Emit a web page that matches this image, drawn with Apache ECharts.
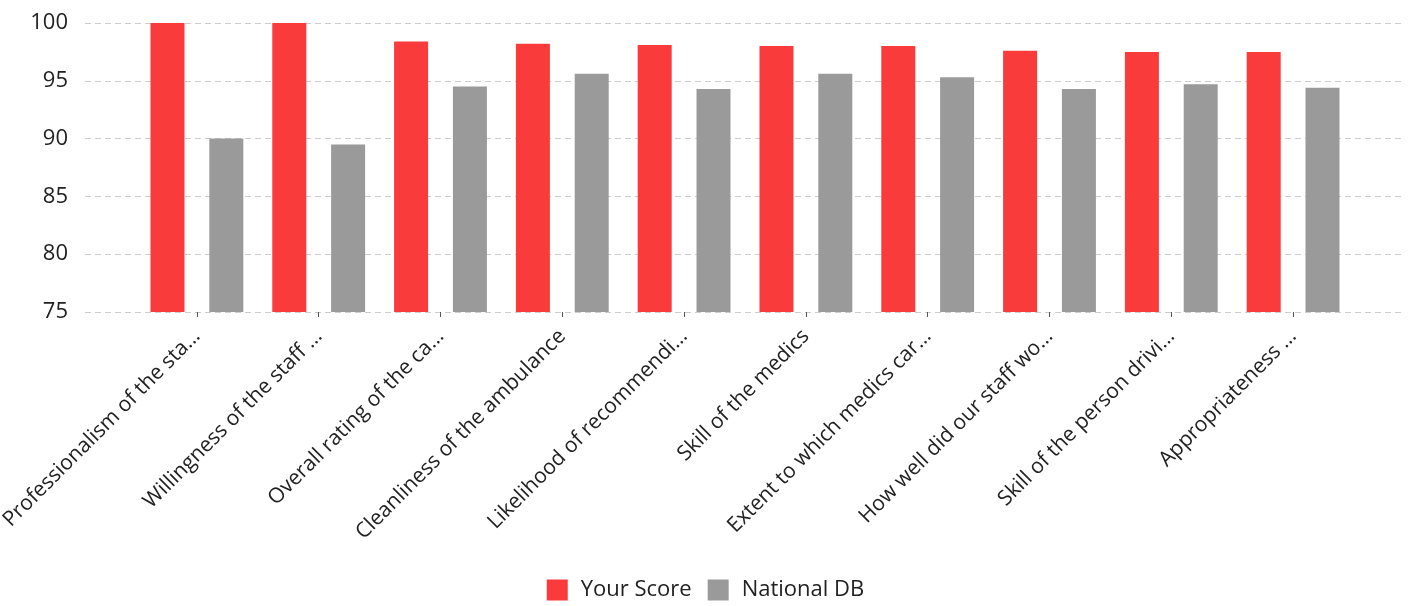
<!DOCTYPE html>
<html>
<head>
<meta charset="utf-8">
<script src="https://cdn.jsdelivr.net/npm/echarts@6/dist/echarts.min.js"></script>
<style>
html,body{margin:0;padding:0;background:#fff;}
#c{width:1411px;height:606px;}
</style>
</head>
<body>
<div id="c"></div>
<script>
const categories = [
  "Professionalism of the sta\u2026",
  "Willingness of the staff \u2026",
  "Overall rating of the ca\u2026",
  "Cleanliness of the ambulance",
  "Likelihood of recommendi\u2026",
  "Skill of the medics",
  "Extent to which medics car\u2026",
  "How well did our staff wo\u2026",
  "Skill of the person drivi\u2026",
  "Appropriateness \u2026"
];
const yourScore = [100, 100, 98.4, 98.2, 98.1, 98.0, 98.0, 97.6, 97.5, 97.5];
const nationalDB = [90.0, 89.5, 94.5, 95.6, 94.3, 95.6, 95.3, 94.3, 94.7, 94.4];
const seriesNames = ["Your Score", "National DB"];

const FONT = "'Open Sans', sans-serif";
const chart = echarts.init(document.getElementById('c'), null, {renderer: 'canvas'});
chart.setOption({
  animation: false,
  textStyle: {fontFamily: FONT},
  grid: [
    {left: 85, right: 9, top: 23, bottom: 294, outerBoundsMode: 'none', containLabel: false},
    {left: 136, right: 57, top: 23, bottom: 294, outerBoundsMode: 'none', containLabel: false}
  ],
  legend: {
    bottom: 0,
    left: 'center',
    itemWidth: 21,
    itemHeight: 21,
    itemGap: 16,
    icon: 'rect',
    textStyle: {fontSize: 22, color: '#222', fontFamily: FONT, padding: [0, 0, 6, 8]},
    data: seriesNames
  },
  xAxis: [
    {gridIndex: 0, type: 'value', show: false, min: 0, max: 1},
    {
      gridIndex: 1,
      type: 'category',
      data: categories,
      axisLine: {show: false},
      axisTick: {show: true, alignWithLabel: true, length: 5, lineStyle: {color: '#555'}},
      axisLabel: {rotate: 45, interval: 0, fontSize: 21, color: '#222', margin: 21, padding: [22, 0, 0, 0], fontFamily: FONT},
      splitLine: {show: false}
    }
  ],
  yAxis: [
    {
      gridIndex: 0,
      type: 'value',
      min: 75, max: 100, interval: 5,
      axisLine: {show: false},
      axisTick: {show: false},
      axisLabel: {fontSize: 22, color: '#222', margin: 17, fontFamily: FONT},
      splitLine: {show: true, lineStyle: {color: '#cccccc', type: [6, 4], width: 1}}
    },
    {
      gridIndex: 1,
      type: 'value',
      min: 75, max: 100, interval: 5,
      show: false,
      splitLine: {show: false}
    }
  ],
  series: [
    {
      name: seriesNames[0], type: 'bar', xAxisIndex: 1, yAxisIndex: 1,
      data: yourScore, barWidth: 34, barGap: '73%',
      itemStyle: {color: '#f93b3b'}
    },
    {
      name: seriesNames[1], type: 'bar', xAxisIndex: 1, yAxisIndex: 1,
      data: nationalDB, barWidth: 34,
      itemStyle: {color: '#9a9a9a'}
    }
  ]
});
</script>
</body>
</html>
